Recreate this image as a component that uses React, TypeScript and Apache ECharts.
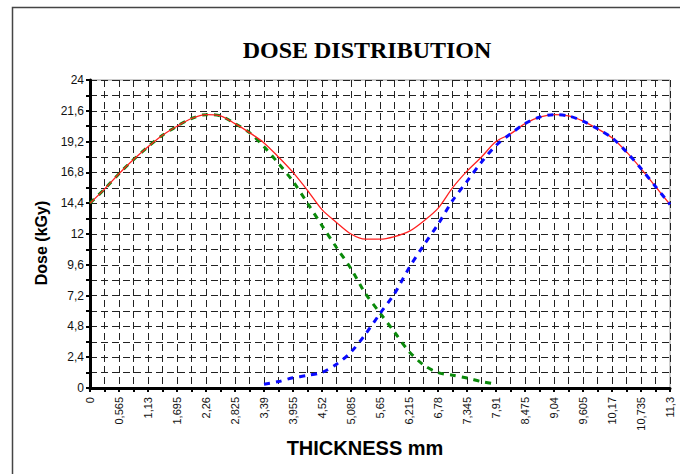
import React, { useEffect, useRef } from "react";
import * as echarts from "echarts";

const thickness = [
  0, 0.2825, 0.565, 0.8475, 1.13, 1.4125, 1.695, 1.9775, 2.26, 2.5425, 2.825,
  3.1075, 3.39, 3.6725, 3.955, 4.2375, 4.52, 4.8025, 5.085, 5.3675, 5.65,
  5.9325, 6.215, 6.4975, 6.78, 7.0625, 7.345, 7.6275, 7.91, 8.1925, 8.475,
  8.7575, 9.04, 9.3225, 9.605, 9.8875, 10.17, 10.4525, 10.735, 11.0175, 11.3,
];

const greenDose = [
  14.4, 15.5, 16.7, 17.8, 18.8, 19.7, 20.4, 21.0, 21.3, 21.2, 20.6,
  19.9, 18.8, 17.5, 16.1, 14.4, 12.65, 10.95, 9.3, 7.35, 5.85,
  4.35, 2.85, 1.8, 1.2, 1.0, 0.78, 0.5, 0.3, null, null,
  null, null, null, null, null, null, null, null, null, null,
];

const blueDose = [
  null, null, null, null, null, null, null, null, null, null, null,
  null, 0.3, 0.5, 0.8, 0.98, 1.22, 1.85, 2.8, 4.2, 5.8,
  7.35, 9.35, 11.1, 12.75, 14.6, 16.1, 17.6, 18.9, 19.8, 20.6,
  21.1, 21.3, 21.2, 20.8, 20.2, 19.5, 18.4, 17.1, 15.7, 14.3,
];

const redDose = [
  14.4, 15.5, 16.7, 17.8, 18.8, 19.7, 20.4, 21.0, 21.3, 21.2, 20.6,
  19.9, 19.1, 18.0, 16.8, 15.4, 13.9, 12.9, 12.0, 11.6, 11.6,
  11.8, 12.2, 13.0, 14.0, 15.6, 16.9, 18.0, 19.2, 19.8, 20.6,
  21.1, 21.3, 21.2, 20.8, 20.2, 19.5, 18.4, 17.1, 15.7, 14.3,
];

const fmt = (v: number) => String(Math.round(v * 10000) / 10000).replace(".", ",");

const pairs = (ys: (number | null)[]) =>
  thickness.map((x, i) => [x, ys[i]] as [number, number | null]).filter((p) => p[1] !== null);

export default function App() {
  const ref = useRef<HTMLDivElement>(null);
  useEffect(() => {
    if (!ref.current) return;
    const chart = echarts.init(ref.current, null, { renderer: "svg" });
    const gridLine = { color: "#222", width: 1, type: [7, 4] as number[] };
    chart.setOption({
      animation: false,
      backgroundColor: "#fff",
      graphic: [
        {
          type: "rect",
          shape: { x: 12.5, y: 7.5, width: 700, height: 500 },
          style: { fill: "none", stroke: "#444", lineWidth: 1.5 },
          silent: true,
          z: 0,
        },
        {
          type: "text",
          x: 367,
          y: 50,
          style: {
            text: "DOSE DISTRIBUTION",
            font: 'bold 24px "Liberation Serif", "Times New Roman", serif',
            fill: "#000",
            textAlign: "center",
            textVerticalAlign: "middle",
          },
        },
        {
          type: "text",
          x: 365,
          y: 448,
          style: {
            text: "THICKNESS mm",
            font: 'bold 20px "Liberation Sans", Arial, sans-serif',
            fill: "#000",
            textAlign: "center",
            textVerticalAlign: "middle",
          },
        },
        {
          type: "text",
          x: 41,
          y: 243,
          rotation: Math.PI / 2,
          style: {
            text: "Dose (kGy)",
            font: 'bold 16px "Liberation Sans", Arial, sans-serif',
            fill: "#000",
            textAlign: "center",
            textVerticalAlign: "middle",
          },
        },
      ],
      grid: {
        left: 90,
        right: 10,
        top: 80,
        bottom: 86,
        show: true,
        borderColor: "#999",
        borderWidth: 1,
      },
      xAxis: {
        type: "value",
        min: 0,
        max: 11.3,
        interval: 0.565,
        axisLine: { show: true, onZero: false, lineStyle: { color: "#000", width: 3 } },
        axisTick: { show: true, length: 4, lineStyle: { color: "#000", width: 2 } },
        minorTick: { show: true, splitNumber: 2, length: 4, lineStyle: { color: "#000", width: 2 } },
        splitLine: { show: true, lineStyle: gridLine },
        minorSplitLine: { show: true, lineStyle: gridLine },
        axisLabel: {
          rotate: 90,
          margin: 9,
          color: "#111",
          fontSize: 11,
          fontFamily: '"Liberation Sans", Arial, sans-serif',
          showMaxLabel: true,
          showMinLabel: true,
          formatter: (v: number) => fmt(v),
        },
      },
      yAxis: {
        type: "value",
        min: 0,
        max: 24,
        interval: 2.4,
        axisLine: { show: true, lineStyle: { color: "#000", width: 3 } },
        axisTick: { show: true, length: 4, lineStyle: { color: "#000", width: 2 } },
        minorTick: { show: true, splitNumber: 2, length: 4, lineStyle: { color: "#000", width: 2 } },
        splitLine: { show: true, lineStyle: gridLine },
        minorSplitLine: { show: true, lineStyle: gridLine },
        axisLabel: {
          margin: 6,
          color: "#111",
          fontSize: 12,
          fontFamily: '"Liberation Sans", Arial, sans-serif',
          formatter: (v: number) => fmt(v),
        },
      },
      series: [
        {
          type: "line",
          name: "green",
          data: pairs(greenDose),
          smooth: 0.3,
          showSymbol: false,
          lineStyle: { color: "#0a8a0a", width: 3, type: [6, 6] },
          z: 2,
        },
        {
          type: "line",
          name: "total",
          data: pairs(redDose),
          smooth: 0.3,
          showSymbol: false,
          lineStyle: { color: "#ff2020", width: 1.3 },
          z: 3,
        },
        {
          type: "line",
          name: "blue",
          data: pairs(blueDose),
          smooth: 0.3,
          showSymbol: false,
          lineStyle: { color: "#0a0aff", width: 3, type: [6, 6] },
          z: 4,
        },
      ],
    });
    return () => chart.dispose();
  }, []);
  return (
    <div
      ref={ref}
      style={{ position: "absolute", left: 0, top: 0, width: 680, height: 474 }}
    />
  );
}
